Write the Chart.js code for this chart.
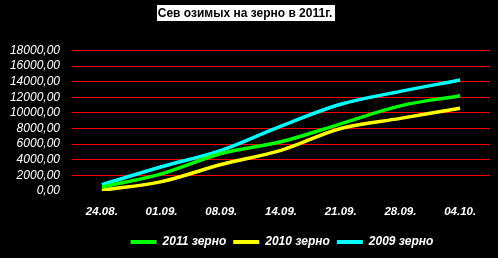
<!DOCTYPE html>
<html><head><meta charset="utf-8">
<script src="https://cdn.jsdelivr.net/npm/chart.js@4/dist/chart.umd.min.js"></script>
<style>html,body{margin:0;padding:0;background:#000;}#wrap{width:498px;height:258px;}</style>
</head><body><div id="wrap"><canvas id="c" width="498" height="258"></canvas></div>
<script>
const titleText = 'Сев озимых на зерно в 2011г.';
const categories = ['24.08.', '01.09.', '08.09.', '14.09.', '21.09.', '28.09.', '04.10.'];
const seriesNames = ['2011 зерно', '2010 зерно', '2009 зерно'];
const values2011 = [500, 2200, 4800, 6300, 8600, 10900, 12200];
const values2010 = [100, 1200, 3400, 5200, 8000, 9300, 10600];
const values2009 = [800, 3100, 5200, 8300, 11100, 12750, 14200];
const yMin = 0, yMax = 18000, yStep = 2000;
const colors = ['#00FF00', '#FFFF00', '#00FFFF'];

const bgPlugin = {
  id: 'bg',
  afterLayout(chart) {
    const lg = chart.legend;
    if (lg) { lg.left += 37; lg.right += 37; }
  },
  beforeDraw(chart) {
    const ctx = chart.ctx;
    ctx.save();
    ctx.fillStyle = '#000';
    ctx.fillRect(0, 0, chart.width, chart.height);
    const tb = chart.titleBlock;
    if (tb) {
      ctx.font = 'bold 12px "Liberation Sans", Arial, sans-serif';
      const w = ctx.measureText(titleText).width;
      const cx = (tb.left + tb.right) / 2;
      ctx.fillStyle = '#fff';
      ctx.fillRect(Math.round(cx - w / 2 - 1), 5, Math.round(w + 3), 16);
    }
    ctx.restore();
  }
};

const allSeries = [values2011, values2010, values2009];
new Chart(document.getElementById('c'), {
  type: 'line',
  data: {
    labels: categories,
    datasets: allSeries.map((v, i) => ({
      label: seriesNames[i],
      data: v,
      borderColor: colors[i],
      backgroundColor: colors[i],
      borderWidth: 3.5,
      pointRadius: 0,
      tension: 0.35,
      fill: false
    }))
  },
  options: {
    responsive: false,
    animation: false,
    layout: { padding: { left: 0, right: 8, top: 0, bottom: 0 } },
    plugins: {
      title: {
        display: true,
        text: titleText,
        color: '#000',
        font: { family: '"Liberation Sans", Arial, sans-serif', size: 12, weight: 'bold', lineHeight: 1.2 },
        padding: { top: 6, bottom: 30 }
      },
      legend: {
        position: 'bottom',
        labels: {
          color: '#fff',
          boxWidth: 26,
          boxHeight: 4,
          padding: 7,
          font: { family: '"Liberation Sans", Arial, sans-serif', size: 12, weight: 'bold', style: 'italic' },
          generateLabels(chart) {
            const items = Chart.defaults.plugins.legend.labels.generateLabels(chart);
            items.forEach(it => { it.lineWidth = 0; });
            return items;
          }
        }
      },
      tooltip: { enabled: false }
    },
    scales: {
      x: {
        offset: true,
        grid: { display: false, drawTicks: false },
        border: { display: false },
        ticks: {
          color: '#fff',
          padding: 14,
          maxRotation: 0,
          font: { family: '"Liberation Sans", Arial, sans-serif', size: 11.5, weight: 'bold', style: 'italic' }
        },
        afterFit(scale) { scale.height = 38; }
      },
      y: {
        min: yMin,
        max: yMax,
        grid: {
          drawTicks: false,
          color: ctx => (ctx.tick && ctx.tick.value === 0) ? 'rgba(0,0,0,0)' : '#FF0000',
          lineWidth: 1
        },
        border: { display: false },
        ticks: {
          stepSize: yStep,
          autoSkip: false,
          color: '#fff',
          padding: 12,
          font: { family: '"Liberation Sans", Arial, sans-serif', size: 12, style: 'italic' },
          callback: v => v.toFixed(2).replace('.', ',')
        },
        afterFit(scale) { scale.width = 72; }
      }
    }
  },
  plugins: [bgPlugin]
});
</script>
</body></html>
